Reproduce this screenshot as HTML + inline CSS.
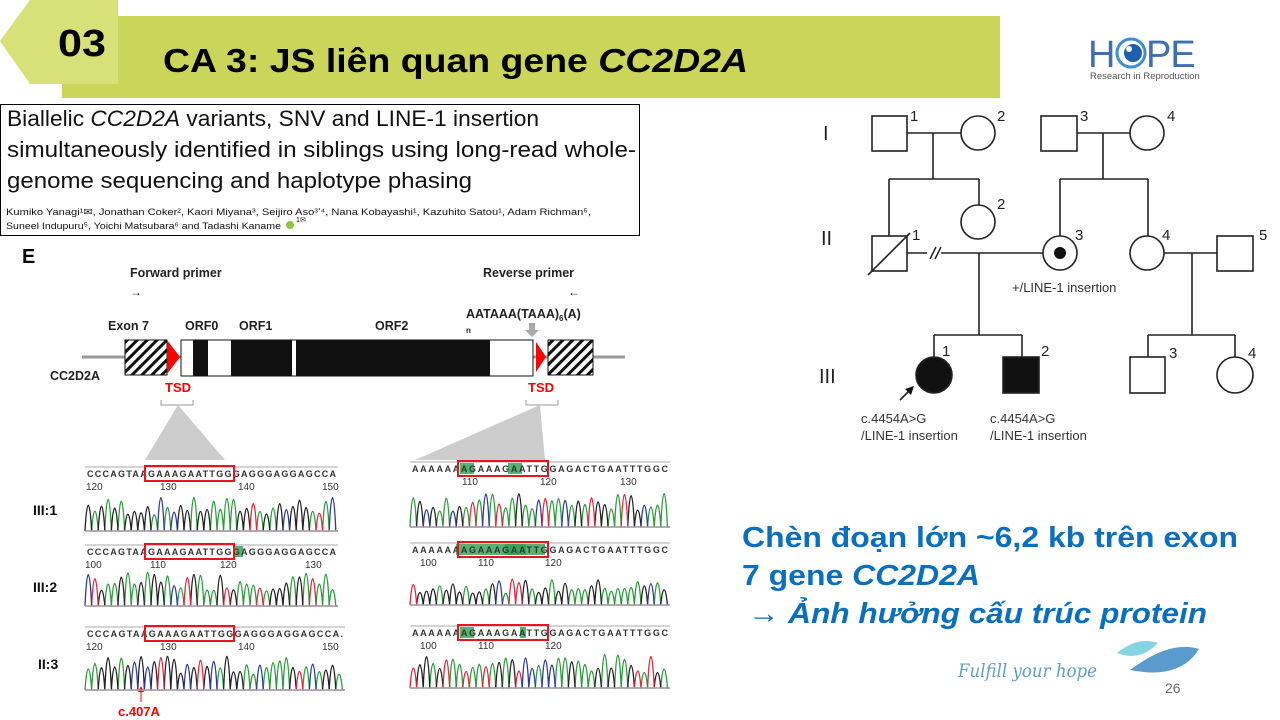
<!DOCTYPE html>
<html><head><meta charset="utf-8">
<style>
html,body{margin:0;padding:0;background:#fff;}
body{width:1280px;height:720px;position:relative;overflow:hidden;font-family:"Liberation Sans",sans-serif;}
</style></head><body>
<svg width="1280" height="720" style="position:absolute;left:0;top:0" xmlns="http://www.w3.org/2000/svg" font-family="Liberation Sans, sans-serif">
<!-- header -->
<rect x="62" y="16" width="938" height="82" fill="#cbd55a"/>
<polygon points="0,41 30,0 118,0 118,84 30,84" fill="#d8e177"/>
<text x="58" y="56" font-size="38" font-weight="bold" fill="#000" textLength="48" lengthAdjust="spacingAndGlyphs">03</text>
<text x="163" y="72" font-size="33" font-weight="bold" fill="#000" textLength="585" lengthAdjust="spacingAndGlyphs">CA 3: JS liên quan gene <tspan font-style="italic">CC2D2A</tspan></text>
<!-- logo -->
<text x="1088" y="67" font-size="38" fill="#3f6fb0" letter-spacing="-1">H</text>
<circle cx="1131" cy="53" r="14" fill="none" stroke="#3f8fd0" stroke-width="3"/>
<circle cx="1133" cy="53" r="9" fill="#1f5fb0"/>
<circle cx="1129" cy="49" r="3" fill="#fff"/>
<text x="1146" y="67" font-size="38" fill="#3f6fb0" letter-spacing="-1">PE</text>
<text x="1090" y="79" font-size="9.5" fill="#555">Research in Reproduction</text>
<!-- paper box -->
<rect x="0.5" y="104.5" width="639" height="131" fill="#fff" stroke="#000" stroke-width="1"/>
<text x="7" y="126" font-size="22" fill="#111" textLength="532" lengthAdjust="spacingAndGlyphs">Biallelic <tspan font-style="italic">CC2D2A</tspan> variants, SNV and LINE-1 insertion</text>
<text x="7" y="157" font-size="22" fill="#111" textLength="629" lengthAdjust="spacingAndGlyphs">simultaneously identified in siblings using long-read whole-</text>
<text x="7" y="188" font-size="22" fill="#111" textLength="465" lengthAdjust="spacingAndGlyphs">genome sequencing and haplotype phasing</text>
<text x="6" y="215" font-size="9.6" fill="#111" textLength="585" lengthAdjust="spacingAndGlyphs">Kumiko Yanagi¹✉, Jonathan Coker², Kaori Miyana³, Seijiro Aso³ʼ⁴, Nana Kobayashi¹, Kazuhito Satou¹, Adam Richman⁵,</text>
<text x="6" y="229" font-size="9.6" fill="#111" textLength="275" lengthAdjust="spacingAndGlyphs">Suneel Indupuru⁵, Yoichi Matsubara⁶ and Tadashi Kaname</text>
<circle cx="290" cy="225" r="4" fill="#8cc63f"/>
<text x="296" y="222" font-size="7" fill="#111">1✉</text>
<!-- gene diagram -->
<text x="22" y="263" font-size="20" font-weight="bold">E</text>
<text x="130" y="277" font-size="12.5" font-weight="bold" fill="#222">Forward primer</text>
<text x="130" y="296" font-size="12" fill="#222">→</text>
<text x="483" y="277" font-size="12.5" font-weight="bold" fill="#222">Reverse primer</text>
<text x="568" y="296" font-size="12" fill="#222">←</text>
<text x="466" y="318" font-size="12.5" font-weight="bold" fill="#222">AATAAA(TAAA)<tspan font-size="8" dy="3">6</tspan><tspan dy="-3">(A)</tspan></text>
<text x="466" y="333" font-size="8" font-weight="bold" fill="#222">n</text>
<text x="108" y="330" font-size="12.5" font-weight="bold" fill="#222">Exon 7</text>
<text x="185" y="330" font-size="12.5" font-weight="bold" fill="#222">ORF0</text>
<text x="239" y="330" font-size="12.5" font-weight="bold" fill="#222">ORF1</text>
<text x="375" y="330" font-size="12.5" font-weight="bold" fill="#222">ORF2</text>
<text x="50" y="380" font-size="12.5" font-weight="bold" fill="#222">CC2D2A</text>
<line x1="82" y1="357" x2="625" y2="357" stroke="#999" stroke-width="3"/>
<defs><pattern id="h" width="7" height="7" patternUnits="userSpaceOnUse" patternTransform="rotate(45)"><rect width="7" height="7" fill="#fff"/><rect width="3" height="7" fill="#111"/></pattern></defs>
<rect x="125" y="340" width="42" height="35" fill="url(#h)" stroke="#111"/>
<rect x="548" y="340" width="45" height="35" fill="url(#h)" stroke="#111"/>
<polygon points="167,340 180,357 167,374" fill="#f00"/>
<polygon points="536,342 546,357 536,372" fill="#f00"/>
<rect x="181" y="340" width="352" height="36" fill="#fff" stroke="#111"/>
<rect x="193" y="340" width="15" height="36" fill="#111"/>
<rect x="231" y="340" width="61" height="36" fill="#111"/>
<rect x="296" y="340" width="194" height="36" fill="#111"/>
<polygon points="529,323 535,323 535,330 539,330 532,337 525,330 529,330" fill="#aaa"/>
<text x="165" y="392" font-size="13" font-weight="bold" fill="#f00">TSD</text>
<text x="528" y="392" font-size="13" font-weight="bold" fill="#f00">TSD</text>
<path d="M161,400 V405 H193 V400 M526,400 V405 H558 V400" fill="none" stroke="#999"/>
<polygon points="178,405 145,460 225,460" fill="#ccc"/>
<polygon points="540,405 415,460 545,460" fill="#ccc"/>
<!-- pedigree -->
<g stroke="#222" stroke-width="1.6" fill="#fff">
<line x1="907" y1="133" x2="961" y2="133"/><line x1="933" y1="133" x2="933" y2="179"/>
<line x1="889" y1="179" x2="979" y2="179"/><line x1="889" y1="179" x2="889" y2="236"/><line x1="979" y1="179" x2="979" y2="205"/>
<line x1="1077" y1="133" x2="1130" y2="133"/><line x1="1103" y1="133" x2="1103" y2="179"/>
<line x1="1060" y1="179" x2="1148" y2="179"/><line x1="1060" y1="179" x2="1060" y2="236"/><line x1="1148" y1="179" x2="1148" y2="236"/>
<line x1="907" y1="253" x2="1043" y2="253"/><line x1="979" y1="253" x2="979" y2="335"/>
<line x1="934" y1="335" x2="1022" y2="335"/><line x1="934" y1="335" x2="934" y2="357"/><line x1="1022" y1="335" x2="1022" y2="357"/>
<line x1="1164" y1="253" x2="1217" y2="253"/><line x1="1192" y1="253" x2="1192" y2="335"/>
<line x1="1148" y1="335" x2="1235" y2="335"/><line x1="1148" y1="335" x2="1148" y2="357"/><line x1="1235" y1="335" x2="1235" y2="357"/>
<rect x="872" y="116" width="35" height="35"/><circle cx="978" cy="133" r="17"/>
<rect x="1041" y="116" width="36" height="35"/><circle cx="1147" cy="133" r="17"/>
<circle cx="978" cy="222" r="17"/>
<rect x="872" y="236" width="35" height="35"/><line x1="868" y1="275" x2="910" y2="233"/>
<circle cx="1060" cy="253" r="17"/><circle cx="1060" cy="253" r="6" fill="#111" stroke="none"/>
<circle cx="1147" cy="253" r="17"/><rect x="1217" y="236" width="36" height="35"/>
<circle cx="934" cy="375" r="18" fill="#111"/><rect x="1003" y="357" width="36" height="36" fill="#111"/>
<rect x="1130" y="357" width="35" height="36"/><circle cx="1235" cy="375" r="18"/>
<line x1="900" y1="400" x2="910" y2="390"/>
</g>
<rect x="927" y="249" width="14" height="8" fill="#fff"/>
<line x1="930" y1="259" x2="936" y2="247" stroke="#222" stroke-width="1.5"/><line x1="935" y1="259" x2="941" y2="247" stroke="#222" stroke-width="1.5"/>
<polygon points="914,386 905,389 911,395" fill="#111"/>
<g font-size="15" fill="#222">
<text x="823" y="140" font-size="20">I</text><text x="821" y="245" font-size="20">II</text><text x="819" y="383" font-size="20">III</text>
<text x="910" y="121">1</text><text x="997" y="121">2</text><text x="1080" y="121">3</text><text x="1167" y="121">4</text>
<text x="997" y="209">2</text><text x="912" y="240">1</text><text x="1075" y="240">3</text><text x="1162" y="240">4</text><text x="1259" y="240">5</text>
<text x="942" y="356">1</text><text x="1041" y="356">2</text><text x="1169" y="358">3</text><text x="1248" y="358">4</text>
</g>
<g font-size="13" fill="#333">
<text x="1012" y="292">+/LINE-1 insertion</text>
<text x="861" y="423">c.4454A&gt;G</text><text x="861" y="440">/LINE-1 insertion</text>
<text x="990" y="423">c.4454A&gt;G</text><text x="990" y="440">/LINE-1 insertion</text>
</g>
<!-- chromatogram labels -->
<g font-size="14" font-weight="bold" fill="#111">
<text x="33" y="515">III:1</text><text x="33" y="592">III:2</text><text x="38" y="669">II:3</text>
</g>
<text x="118" y="716" font-size="13" font-weight="bold" fill="#f00">c.407A</text>
<line x1="141" y1="688" x2="141" y2="702" stroke="#f00"/>
<polygon points="141,686 138,692 144,692" fill="#f00"/>
<g id="chrom"></g>
<!-- right text -->
<g font-size="29" font-weight="bold" fill="#0b6fc0">
<text x="742" y="547" textLength="496" lengthAdjust="spacingAndGlyphs">Chèn đoạn lớn ~6,2 kb trên exon</text>
<text x="742" y="585" textLength="238" lengthAdjust="spacingAndGlyphs">7 gene <tspan font-style="italic">CC2D2A</tspan></text>
<text x="748" y="623" font-style="italic" textLength="459" lengthAdjust="spacingAndGlyphs">→ Ảnh hưởng cấu trúc protein</text>
</g>
<text x="958" y="677" font-size="19" fill="#5f9fc8" font-family="DejaVu Serif, serif" font-style="italic" textLength="139" lengthAdjust="spacingAndGlyphs">Fulfill your hope</text>
<path d="M1117,653 Q1138,636 1158,643 Q1140,662 1117,653Z" fill="#86d3e3"/>
<path d="M1130,670 Q1170,640 1199,649 Q1180,680 1130,670Z" fill="#5a9bcd"/>
<text x="1165" y="693" font-size="14" fill="#666">26</text>
</svg>
<script>
(function(){
var g=document.getElementById('chrom'),ns='http://www.w3.org/2000/svg';
function el(t,a,txt){var e=document.createElementNS(ns,t);for(var k in a)e.setAttribute(k,a[k]);if(txt)e.textContent=txt;g.appendChild(e);return e;}
var seed=7;function r(){seed=(seed*9301+49297)%233280;return seed/233280;}
var cols=['#2a9d3a','#222','#e8233a','#2b3aa0'];
var wts=[0.4,0.3,0.15,0.15];
function pick(){var v=r(),s=0;for(var i=0;i<4;i++){s+=wts[i];if(v<s)return i;}return 0;}
function panel(x0,w,ytxt,yb,h,seq,nums,box,greens){
 el('line',{x1:x0,y1:ytxt-10,x2:x0+w,y2:ytxt-10,stroke:'#aaa'});
 (greens||[]).forEach(function(gx){el('rect',{x:gx[0],y:ytxt-9,width:gx[1],height:11,fill:'#2aa050',opacity:'0.8'});});
 el('text',{x:x0+2,y:ytxt,'font-size':'9','font-weight':'bold',fill:'#333',textLength:w-4,lengthAdjust:'spacing','font-family':'Liberation Sans, sans-serif'},seq);
 el('rect',{x:box[0],y:ytxt-11,width:box[1],height:15,fill:'none',stroke:'#e8151e','stroke-width':'2'});
 nums.forEach(function(n){el('text',{x:n[0],y:ytxt+13,'font-size':'10',fill:'#333'},n[1]);});
 var step=6.6,n=Math.floor(w/step);
 var paths=['','','',''];
 for(var c=0;c<4;c++)paths[c]='M'+x0+','+yb;
 for(var i=0;i<n;i++){var px=x0+i*step+step/2;var c=pick();var hh=h*(0.45+0.55*r());
   paths[c]+=' L'+(px-step/2)+','+yb+' C'+(px-1.5)+','+(yb-hh*1.33)+' '+(px+1.5)+','+(yb-hh*1.33)+' '+(px+step/2)+','+yb;
 }
 for(var c=0;c<4;c++)el('path',{d:paths[c]+' L'+(x0+w)+','+yb,fill:'none',stroke:cols[c],'stroke-width':'1.3'});
 el('line',{x1:x0,y1:yb,x2:x0+w,y2:yb,stroke:'#ccc'});
}
panel(85,253,477,531,34,'CCCAGTAAGAAAGAATTGGGAGGGAGGAGCCA',[[86,'120'],[160,'130'],[238,'140'],[322,'150']],[145,89]);
panel(85,253,555,606,34,'CCCAGTAAGAAAGAATTGGGAGGGAGGAGCCA',[[85,'100'],[150,'110'],[220,'120'],[305,'130']],[145,89],[[235,8]]);
panel(85,260,637,690,34,'CCCAGTAAGAAAGAATTGGGAGGGAGGAGCCA.',[[86,'120'],[160,'130'],[238,'140'],[322,'150']],[145,89]);
panel(410,260,472,527,34,'AAAAAAAGAAAGAATTGGAGACTGAATTTGGC',[[462,'110'],[540,'120'],[620,'130']],[458,90],[[460,14],[508,14]]);
panel(410,260,553,605,26,'AAAAAAAGAAAGAATTGGAGACTGAATTTGGC',[[420,'100'],[478,'110'],[545,'120']],[458,90],[[456,70],[505,40]]);
panel(410,260,636,688,34,'AAAAAAAGAAAGAATTGGAGACTGAATTTGGC',[[420,'100'],[478,'110'],[545,'120']],[458,90],[[460,14],[520,6]]);
})();
</script>
</body></html>
